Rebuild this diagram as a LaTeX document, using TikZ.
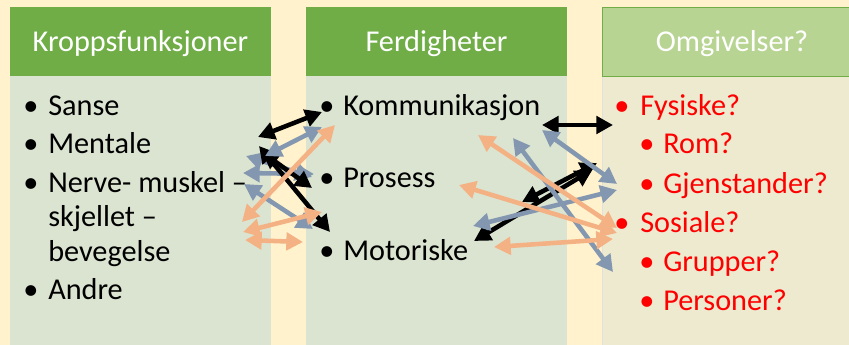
\documentclass[tikz,border=0pt]{standalone}
\usepackage{fontspec}
\setmainfont{Carlito}
\usetikzlibrary{arrows.meta}
\definecolor{bg}{HTML}{FFF2CC}
\definecolor{hdr}{HTML}{70AD47}
\definecolor{hdrlight}{HTML}{B8D492}
\definecolor{bodygreen}{HTML}{DAE4D0}
\definecolor{bodyyel}{HTML}{EEEAD0}
\definecolor{arrblue}{HTML}{8497B0}
\definecolor{arrorange}{HTML}{F4B183}
\definecolor{txtred}{HTML}{FF0000}
\begin{document}
\begin{tikzpicture}[x=0.75pt,y=-0.75pt,
  txt/.style={anchor=base west, inner sep=0pt, font=\fontsize{22.7}{27}\selectfont},
  bul/.style={anchor=base, inner sep=0pt, font=\fontsize{22.7}{27}\selectfont},
  hdrtxt/.style={anchor=base, inner sep=0pt, text=white, font=\fontsize{22.7}{27}\selectfont},
  dbl/.style={line width=3.4pt, arrows={Triangle[length=12.5pt,width=13pt]-Triangle[length=12.5pt,width=13pt]}},
  kar/.style={dbl, draw=black},
  bar/.style={dbl, draw=arrblue},
  oar/.style={dbl, draw=arrorange},
]
\useasboundingbox (0,0) rectangle (849,345);
\clip (0,0) rectangle (849,345);
\fill[bg] (0,0) rectangle (849,345);
% columns
\fill[bodygreen] (10,76) rectangle (271,350);
\fill[hdr] (10,7) rectangle (271,76);
\fill[bodygreen] (306,76) rectangle (567,350);
\fill[hdr] (306,7) rectangle (567,76);
\filldraw[fill=bodyyel, draw=bodygreen!80!black!40, line width=0.5pt] (602,76) rectangle (870,350);
\filldraw[fill=hdrlight, draw=hdr, line width=0.6pt] (602,7) rectangle (870,76);
% headers
\node[hdrtxt] (h1) at (140.5,52) {Kroppsfunksjoner};
\node[hdrtxt] (h2) at (436.5,52) {Ferdigheter};
\node[hdrtxt] (h3) at (732,52) {Omgivelser?};
% column 1
\node[bul] (b11) at (31,116) {•};
\node[txt] (t11) at (48,116) {Sanse};
\node[bul] (b12) at (31,154) {•};
\node[txt] (t12) at (48,154) {Mentale};
\node[bul] (b13) at (31,193) {•};
\node[txt] (t13a) at (48,193) {Nerve- muskel –};
\node[txt] (t13b) at (48,227) {skjellet –};
\node[txt] (t13c) at (48,262) {bevegelse};
\node[bul] (b14) at (31,300) {•};
\node[txt] (t14) at (48,300) {Andre};
% column 2
\node[bul] (b21) at (327,116) {•};
\node[txt] (t21) at (343,116) {Kommunikasjon};
\node[bul] (b22) at (327,188) {•};
\node[txt] (t22) at (343,188) {Prosess};
\node[bul] (b23) at (327,261) {•};
\node[txt] (t23) at (343,261) {Motoriske};
% column 3
\begin{scope}[every node/.append style={text=txtred}]
\node[bul] (b31) at (622,116) {•};
\node[txt] (t31) at (640,116) {Fysiske?};
\node[bul] (b32) at (647,154) {•};
\node[txt] (t32) at (663,154) {Rom?};
\node[bul] (b33) at (647,194) {•};
\node[txt] (t33) at (663,194) {Gjenstander?};
\node[bul] (b34) at (622,233) {•};
\node[txt] (t34) at (640,233) {Sosiale?};
\node[bul] (b35) at (647,272) {•};
\node[txt] (t35) at (663,272) {Grupper?};
\node[bul] (b36) at (647,310) {•};
\node[txt] (t36) at (663,310) {Personer?};
\end{scope}
% arrow end points, left cluster
\coordinate (kL1a) at (258,137); \coordinate (kL1b) at (322,112);
\coordinate (bL1a) at (265,156); \coordinate (bL1b) at (322,127);
\coordinate (kL2a) at (259,146); \coordinate (kL2b) at (330,232);
\coordinate (kL3a) at (262,152); \coordinate (kL3b) at (312,188);
\coordinate (bL2a) at (243,173); \coordinate (bL2b) at (314,174);
\coordinate (bL4a) at (246,156); \coordinate (bL4b) at (312,177);
\coordinate (bL3a) at (244,184); \coordinate (bL3b) at (313,229);
\coordinate (oL1a) at (242,222); \coordinate (oL1b) at (335,125);
\coordinate (oL2a) at (243,232); \coordinate (oL2b) at (322,212);
\coordinate (oL3a) at (245,240); \coordinate (oL3b) at (303,242);
% right cluster
\coordinate (kR1a) at (542,125); \coordinate (kR1b) at (613,125);
\coordinate (kR2a) at (522,202); \coordinate (kR2b) at (597,163);
\coordinate (kR3a) at (474,241); \coordinate (kR3b) at (592,170);
\coordinate (bR1a) at (542,130); \coordinate (bR1b) at (617,184);
\coordinate (bR2a) at (473,226); \coordinate (bR2b) at (617,190);
\coordinate (bR3a) at (513,138); \coordinate (bR3b) at (613,272);
\coordinate (oR1a) at (478,135); \coordinate (oR1b) at (617,228);
\coordinate (oR2a) at (459,185); \coordinate (oR2b) at (617,233);
\coordinate (oR3a) at (494,247); \coordinate (oR3b) at (613,239);
% arrows
\draw[bar] (bL4a) -- (bL4b);
\draw[bar] (bL2a) -- (bL2b);
\draw[bar] (bL3a) -- (bL3b);
\draw[kar] (kL1a) -- (kL1b);
\draw[kar] (kL2a) -- (kL2b);
\draw[kar] (kL3a) -- (kL3b);
\draw[bar] (bL1a) -- (bL1b);
\draw[oar] (oL1a) -- (oL1b);
\draw[oar] (oL2a) -- (oL2b);
\draw[oar] (oL3a) -- (oL3b);
\draw[kar] (kR1a) -- (kR1b);
\draw[kar] (kR2a) -- (kR2b);
\draw[kar] (kR3a) -- (kR3b);
\draw[bar] (bR1a) -- (bR1b);
\draw[bar] (bR2a) -- (bR2b);
\draw[bar] (bR3a) -- (bR3b);
\draw[oar] (oR1a) -- (oR1b);
\draw[oar] (oR2a) -- (oR2b);
\draw[oar] (oR3a) -- (oR3b);
\end{tikzpicture}
\end{document}
